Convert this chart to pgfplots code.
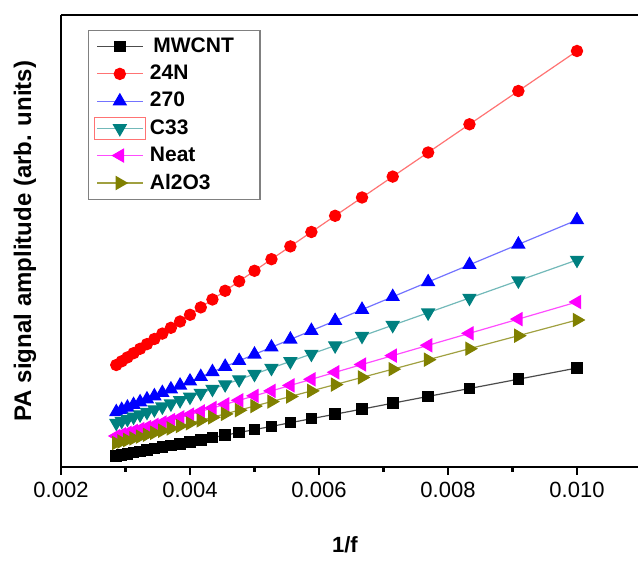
\documentclass[border=0pt]{standalone}
\usepackage{fontspec}
\setmainfont{Liberation Sans}
\usepackage{pgfplots}
\usepackage{pgfplotstable}
\pgfplotsset{compat=1.18}
\definecolor{cteal}{RGB}{0,128,128}
\definecolor{colive}{RGB}{128,128,0}
\definecolor{cmag}{RGB}{255,0,255}

% 1/f, then the six samples
\pgfplotstableread{
x        mwcnt  n24    s270   c33    neat   al2o3
0.010000 99.0   416.0  247.0  207.0  165.0  147.0
0.009091 87.8   376.0  222.6  186.3  147.9  131.3
0.008333 78.5   342.7  202.2  169.0  133.7  118.3
0.007692 70.6   314.5  185.0  154.3  121.7  107.3
0.007143 63.8   290.4  170.2  141.8  111.4  97.8
0.006667 57.9   269.5  157.4  130.9  102.5  89.6
0.006250 52.8   251.2  146.2  121.4  94.7   82.4
0.005882 48.3   235.0  136.3  113.0  87.7   76.1
0.005556 44.3   220.6  127.6  105.6  81.6   70.5
0.005263 40.6   207.8  119.7  98.9   76.1   65.4
0.005000 37.4   196.2  112.6  92.9   71.2   60.9
0.004762 34.5   185.7  106.2  87.5   66.7   56.8
0.004545 31.8   176.2  100.4  82.5   62.7   53.1
0.004348 29.4   167.5  95.1   78.0   59.0   49.7
0.004167 27.1   159.6  90.2   73.9   55.6   46.6
0.004000 25.1   152.2  85.7   70.1   52.4   43.7
0.003846 23.2   145.5  81.6   66.6   49.6   41.0
0.003704 21.4   139.2  77.8   63.3   46.9   38.6
0.003571 19.8   133.4  74.2   60.3   44.4   36.3
0.003448 18.3   128.0  70.9   57.5   42.1   34.2
0.003333 16.9   122.9  67.8   54.9   39.9   32.2
0.003226 15.5   118.2  64.9   52.4   37.9   30.4
0.003125 14.3   113.8  62.2   50.1   36.0   28.6
0.003030 13.1   109.6  59.6   47.9   34.2   27.0
0.002941 12.0   105.7  57.3   45.9   32.6   25.5
0.002857 11.0   102.0  55.0   44.0   31.0   24.0
}\pamp

\pgfplotsset{
    long legend/.style={legend image code/.code={
        \draw[mark repeat=2, mark phase=2, ##1] plot coordinates {(0cm,0cm) (0.4cm,0cm) (0.8cm,0cm)};
    }},
    boxed legend/.style={legend image code/.code={
        \draw[red!55, line width=0.5pt] (-0.05cm,-0.2cm) rectangle (0.85cm,0.2cm);
        \draw[mark repeat=2, mark phase=2, ##1] plot coordinates {(0cm,0cm) (0.4cm,0cm) (0.8cm,0cm)};
    }},
}

\begin{document}
\begin{tikzpicture}
\begin{axis}[
    scale only axis,
    width=288.5pt, height=226pt,
    xmin=0.002, xmax=0.010946,
    ymin=0, ymax=452,
    axis x line*=box,
    axis y line*=left,
    axis line style={line width=1.2pt},
    xtick={0.002,0.004,0.006,0.008,0.010},
    minor x tick num=1,
    ytick=\empty,
    tick align=outside,
    xtick pos=bottom,
    major tick length=4pt,
    minor tick length=2.5pt,
    every tick/.style={black, line width=1.2pt},
    scaled x ticks=false,
    xticklabel style={/pgf/number format/.cd, fixed, fixed zerofill, precision=3, assume math mode=true},
    ticklabel style={font=\fontsize{11}{13}\selectfont},
    xlabel={\textbf{1/f}},
    xlabel style={at={(axis description cs:0.492,-0.1726)}, anchor=center, font=\fontsize{11}{13}\selectfont},
    ylabel={\textbf{PA signal amplitude (arb. units)}},
    ylabel style={at={(axis description cs:-0.0624,0.5)}, anchor=center, font=\fontsize{12}{14}\selectfont},
    legend cell align=left,
    legend style={at={(axis description cs:0.047,0.973)}, anchor=north west, yshift=-1.5pt,
        draw=gray, line width=0.6pt, fill=white,
        font=\bfseries\fontsize{10.5}{12}\selectfont,
        row sep=0.8pt, inner xsep=2.5pt, inner ysep=1.5pt},
    long legend,
    every axis plot/.append style={line width=0.6pt},
]
\addplot[black!70, mark=square*, mark size=2.6pt, mark options={black, fill=black}] table[x=x, y=mwcnt] {\pamp};
\addlegendentry{\,MWCNT\kern8.5pt}
\addplot[red!55, mark=*, mark size=2.8pt, mark options={red, fill=red}] table[x=x, y=n24] {\pamp};
\addlegendentry{24N}
\addplot[blue!55, mark=triangle*, mark size=3.6pt, mark options={blue, fill=blue}] table[x=x, y=s270] {\pamp};
\addlegendentry{270}
\addplot[cteal!55, mark=triangle*, mark size=3.6pt, mark options={cteal, fill=cteal, rotate=180}, boxed legend] table[x=x, y=c33] {\pamp};
\addlegendentry{C33}
\addplot[cmag!70, mark=triangle*, mark size=3.6pt, mark options={cmag, fill=cmag, rotate=90}] table[x=x, y=neat] {\pamp};
\addlegendentry{Neat}
\addplot[colive!75, mark=triangle*, mark size=3.6pt, mark options={colive, fill=colive, rotate=-90}] table[x=x, y=al2o3] {\pamp};
\addlegendentry{Al2O3}
\end{axis}
\pgfresetboundingbox
\path[use as bounding box] ([xshift=-30.5pt, yshift=-47.5pt]current axis.south west) rectangle ([yshift=7.5pt]current axis.north east);
\end{tikzpicture}
\end{document}
